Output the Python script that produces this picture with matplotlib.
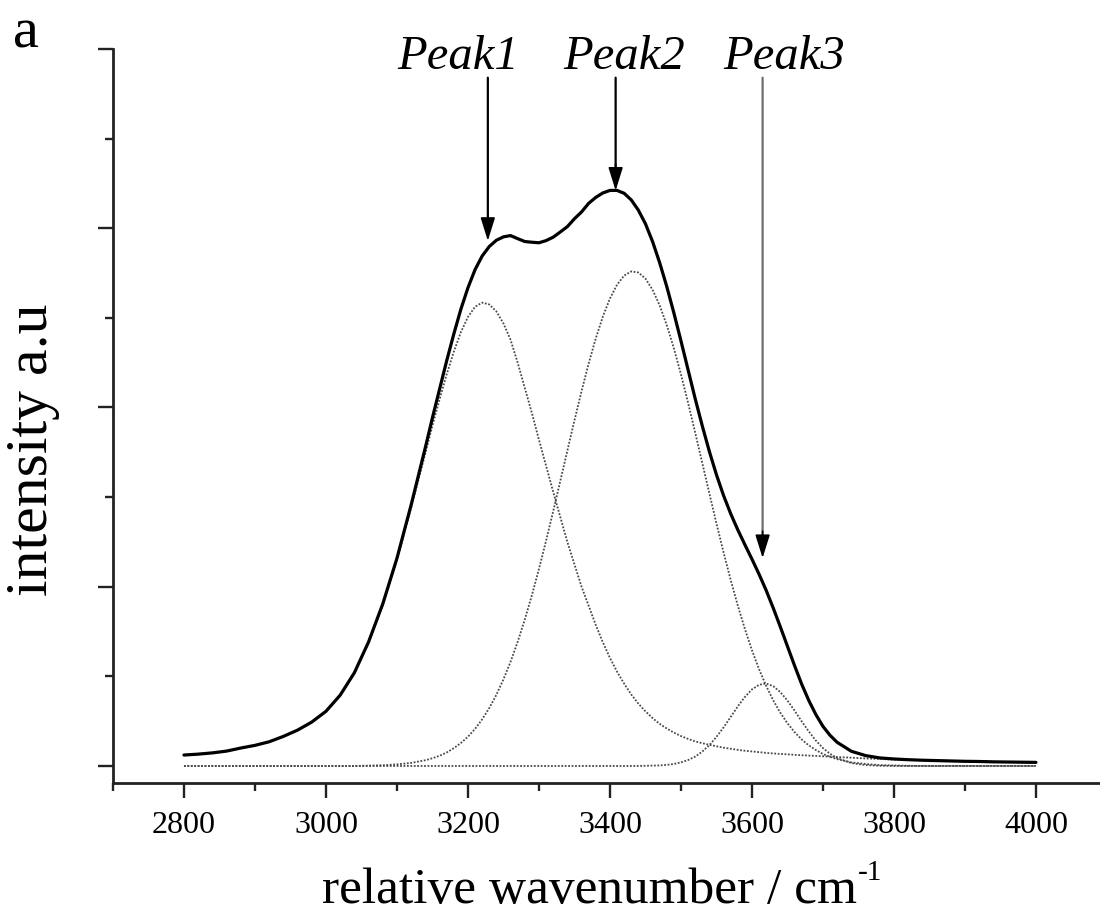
import numpy as np
import matplotlib
matplotlib.use("Agg")
from matplotlib import pyplot as plt
from matplotlib.ticker import MultipleLocator, NullFormatter

# 20 cm-1 steps on the tails, 10 cm-1 steps over the band
wavenumber = (list(range(2800, 3140, 20)) + list(range(3140, 3720, 10))
              + list(range(3720, 4001, 20)))

peak1 = [0.061, 0.066, 0.073, 0.083, 0.100, 0.115, 0.135, 0.165, 0.200, 0.245,
         0.305, 0.395, 0.520, 0.690, 0.900, 1.150, 1.440,
         # 3140 .. 3710
         1.745, 1.900, 2.045, 2.185, 2.310, 2.420,
         2.505, 2.562, 2.585, 2.575, 2.536, 2.469, 2.378, 2.250, 2.110, 1.970,
         1.820, 1.675, 1.530, 1.390, 1.250, 1.125, 1.000, 0.894, 0.787, 0.690,
         0.603, 0.526, 0.459, 0.399, 0.348, 0.305, 0.267, 0.235, 0.209, 0.186,
         0.167, 0.151, 0.137, 0.127, 0.118, 0.110, 0.102, 0.096, 0.090, 0.085,
         0.081, 0.077, 0.073, 0.070, 0.067, 0.065, 0.062, 0.060, 0.058, 0.056,
         0.054, 0.052,
         # 3720 .. 4000
         0.050, 0.046, 0.042, 0.039, 0.036, 0.034, 0.032, 0.030, 0.028, 0.026,
         0.025, 0.023, 0.022, 0.021, 0.020]

peak2 = [0, 0, 0, 0, 0, 0, 0, 0, 0, 0,
         0, 0, 0, 0.002, 0.004, 0.009, 0.017,
         # 3140 .. 3710
         0.032, 0.043, 0.057, 0.075, 0.099, 0.128,
         0.163, 0.207, 0.260, 0.323, 0.397, 0.483, 0.581, 0.692, 0.816, 0.952,
         1.099, 1.256, 1.420, 1.589, 1.759, 1.928, 2.091, 2.245, 2.385, 2.507,
         2.608, 2.685, 2.736, 2.759, 2.753, 2.719, 2.657, 2.570, 2.460, 2.331,
         2.185, 2.027, 1.861, 1.691, 1.521, 1.353, 1.192, 1.039, 0.896, 0.765,
         0.646, 0.540, 0.447, 0.366, 0.297, 0.238, 0.189, 0.148, 0.115, 0.089,
         0.067, 0.051,
         # 3720 .. 4000
         0.038, 0.020, 0.011, 0.005, 0.003, 0.001, 0, 0, 0, 0,
         0, 0, 0, 0, 0]

peak3 = [0, 0, 0, 0, 0, 0, 0, 0, 0, 0,
         0, 0, 0, 0, 0, 0, 0,
         # 3140 .. 3710
         0, 0, 0, 0, 0, 0,
         0, 0, 0, 0, 0, 0, 0, 0, 0, 0,
         0, 0, 0, 0, 0, 0, 0, 0, 0, 0,
         0, 0, 0, 0, 0, 0.001, 0.002, 0.003, 0.006, 0.011,
         0.020, 0.033, 0.052, 0.080, 0.116, 0.162, 0.215, 0.273, 0.332, 0.385,
         0.427, 0.453, 0.460, 0.445, 0.412, 0.365, 0.309, 0.249, 0.193, 0.142,
         0.100, 0.068,
         # 3720 .. 4000
         0.044, 0.016, 0.005, 0.001, 0, 0, 0, 0, 0, 0,
         0, 0, 0, 0, 0]

peak_names = ["Peak1", "Peak2", "Peak3"]
arrow_x = [3228, 3408, 3615]
arrow_tip = [2.93, 3.21, 1.16]
label_x = [3186, 3420, 3645]
shaft_colors = ['black', 'black', '#6e6e6e']

plt.rcParams['font.family'] = ['Liberation Serif', 'DejaVu Serif']

x = np.array(wavenumber)
components = [np.array(peak1), np.array(peak2), np.array(peak3)]
total = components[0] + components[1] + components[2]  # envelope of the fit

fig = plt.figure(figsize=(11, 9.16), dpi=100)
ax = fig.add_axes([0.1027, 0.1452, 0.9036, 0.8013])

for comp in components:
    ax.plot(x, comp, color='#4a4a4a', lw=1.3, linestyle=(0, (1.0, 0.9)))
ax.plot(x, total, color='black', lw=2.3, solid_capstyle='round',
        solid_joinstyle='round')

ax.set_xlim(2700, 4100)
ax.set_ylim(-0.095, 4.0)

for side in ['top', 'right']:
    ax.spines[side].set_visible(False)
for side in ['left', 'bottom']:
    ax.spines[side].set_linewidth(2.0)
    ax.spines[side].set_color('#222222')

ax.xaxis.set_major_locator(MultipleLocator(200))
ax.xaxis.set_minor_locator(MultipleLocator(100))
ax.yaxis.set_major_locator(MultipleLocator(1))
ax.yaxis.set_minor_locator(MultipleLocator(0.5))
ax.yaxis.set_major_formatter(NullFormatter())
ax.tick_params(which='major', direction='out', length=11, width=1.7, color='#222222')
ax.tick_params(which='minor', direction='out', length=6, width=1.7, color='#222222')
ax.tick_params(axis='x', labelsize=23, pad=9)

head = '-|>,head_length=0.8,head_width=0.25'
for name, ax_x, tip, lx, col in zip(peak_names, arrow_x, arrow_tip, label_x,
                                    shaft_colors):
    # shaft, then a black head on top
    ax.annotate('', xy=(ax_x, tip + 0.05), xytext=(ax_x, 3.84),
                arrowprops=dict(arrowstyle='-', color=col, lw=1.6,
                                shrinkA=0, shrinkB=0))
    ax.annotate('', xy=(ax_x, tip), xytext=(ax_x, tip + 0.15),
                arrowprops=dict(arrowstyle=head, mutation_scale=18,
                                color='black', lw=1.2, shrinkA=0, shrinkB=0))
    ax.text(lx, 3.89, name, ha='center', va='baseline', fontsize=35,
            style='italic')

fig.text(0.012, (916 - 47) / 916, 'a', fontsize=42, va='baseline', ha='left')

xlab = fig.text(322 / 1100, (916 - 903) / 916, 'relative wavenumber / cm',
                fontsize=37, ha='left', va='baseline')
fig.canvas.draw()
bb = xlab.get_window_extent()
fig.text(bb.x1 / 1100 + 0.001, (916 - 880) / 916, '-1', fontsize=21,
         ha='left', va='baseline')

fig.text(33 / 1100, (916 - 450) / 916, 'intensity a.u', fontsize=43,
         rotation=90, ha='center', va='center')

fig.savefig('out.png', dpi=100)
